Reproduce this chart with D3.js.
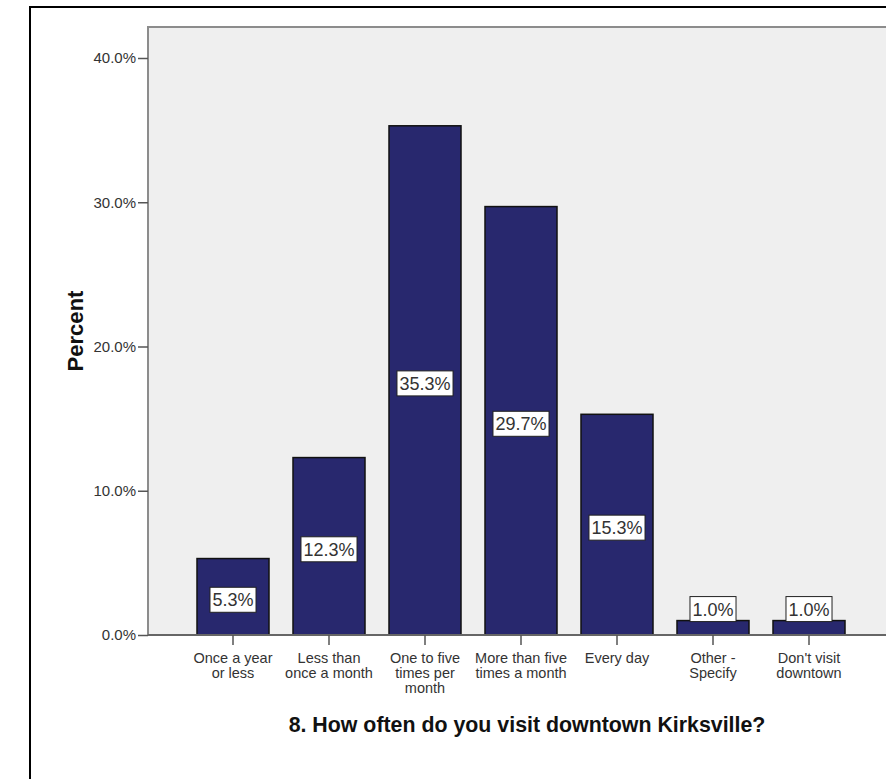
<!DOCTYPE html>
<html>
<head>
<meta charset="utf-8">
<script src="https://cdn.jsdelivr.net/npm/d3@7"></script>
<style>
  html, body { margin: 0; padding: 0; background: #fff; }
  svg { display: block; }
  text { font-family: "Liberation Sans", Arial, sans-serif; }
</style>
</head>
<body>
<svg id="chart" width="886" height="779"></svg>
<script>
// ---- data ----
const categories = [
  "Once a year or less",
  "Less than once a month",
  "One to five times per month",
  "More than five times a month",
  "Every day",
  "Other - Specify",
  "Don't visit downtown"
];
const categoryLines = [
  ["Once a year", "or less"],
  ["Less than", "once a month"],
  ["One to five", "times per", "month"],
  ["More than five", "times a month"],
  ["Every day"],
  ["Other -", "Specify"],
  ["Don't visit", "downtown"]
];
const percents = [5.3, 12.3, 35.3, 29.7, 15.3, 1.0, 1.0];
const yTicks = [0, 10, 20, 30, 40];
const xTitle = "8. How often do you visit downtown Kirksville?";
const yTitle = "Percent";

// ---- layout ----
const W = 886, H = 779;
const svg = d3.select("#chart");
const plotLeft = 148, plotTop = 27, plotBottom = 635, plotRight = 910;

const x = d3.scaleBand().domain(categories).range([185, 857])
  .paddingInner(0.25).paddingOuter(0.125);
const y = d3.scaleLinear().domain([0, 40]).range([plotBottom, 58]);

// outer frame
svg.append("rect").attr("x", 30).attr("y", 7).attr("width", 900).attr("height", 800)
  .attr("fill", "#fff").attr("stroke", "#000").attr("stroke-width", 2);

// plot area
svg.append("rect").attr("x", plotLeft).attr("y", plotTop)
  .attr("width", plotRight - plotLeft).attr("height", plotBottom - plotTop)
  .attr("fill", "#efefef").attr("stroke", "#8c8c8c").attr("stroke-width", 2);

// y axis
const yAxis = svg.append("g").attr("transform", `translate(${plotLeft},0)`)
  .call(d3.axisLeft(y).tickValues(yTicks).tickSize(10).tickPadding(2)
    .tickFormat(d => d.toFixed(1) + "%"));
yAxis.select(".domain").remove();
yAxis.selectAll(".tick line").attr("stroke", "#555").attr("stroke-width", 1.5);
yAxis.selectAll(".tick text").attr("fill", "#333").style("font-size", "15px")
  .style("font-family", "'Liberation Sans', Arial, sans-serif");

// bars
svg.append("g").selectAll("rect").data(percents).join("rect")
  .attr("x", (d, i) => x(categories[i]))
  .attr("y", d => y(d))
  .attr("width", x.bandwidth())
  .attr("height", d => plotBottom - y(d))
  .attr("fill", "#28286e").attr("stroke", "#111").attr("stroke-width", 1.5);

// bottom axis line
svg.append("line").attr("x1", plotLeft).attr("x2", W).attr("y1", plotBottom).attr("y2", plotBottom)
  .attr("stroke", "#666").attr("stroke-width", 2);

// x axis
const xAxis = svg.append("g").attr("transform", `translate(0,${plotBottom})`)
  .call(d3.axisBottom(x).tickSize(10).tickFormat(""));
xAxis.select(".domain").remove();
xAxis.selectAll(".tick line").attr("stroke", "#555").attr("stroke-width", 1.5);
xAxis.selectAll(".tick").each(function(d, i) {
  const t = d3.select(this).append("text").attr("fill", "#333")
    .attr("text-anchor", "middle").style("font-size", "14.5px")
    .style("font-family", "'Liberation Sans', Arial, sans-serif");
  categoryLines[i].forEach((ln, k) => {
    t.append("tspan").attr("x", 0).attr("y", 28 + k * 15).text(ln);
  });
});

// value labels
const lg = svg.append("g");
percents.forEach((v, i) => {
  const cx = x(categories[i]) + x.bandwidth() / 2;
  const g = lg.append("g");
  const txt = g.append("text").attr("x", cx).attr("text-anchor", "middle")
    .attr("fill", "#333").style("font-size", "18px").text(v.toFixed(1) + "%");
  const tw = txt.node().getComputedTextLength();
  const bh = 25, bw = tw + 5;
  const top = (plotBottom - y(v)) > 40
    ? (y(v) + plotBottom) / 2 + 3 - bh / 2
    : y(v) - bh + 1;
  g.insert("rect", "text").attr("x", cx - bw / 2).attr("y", top)
    .attr("width", bw).attr("height", bh)
    .attr("fill", "#fff").attr("stroke", "#222").attr("stroke-width", 1);
  txt.attr("y", top + bh / 2).attr("dy", "0.36em");
});

// axis titles
function fitText(sel, target) {
  const w = sel.node().getComputedTextLength();
  const fs = parseFloat(sel.style("font-size"));
  sel.style("font-size", (fs * target / w) + "px");
}
const xt = svg.append("text").attr("x", 527).attr("y", 732)
  .attr("text-anchor", "middle").attr("fill", "#111")
  .style("font-weight", "bold").style("font-size", "18px").text(xTitle);
fitText(xt, 477);

const yt = svg.append("text").attr("transform", "translate(83,331) rotate(-90)")
  .attr("text-anchor", "middle").attr("fill", "#111")
  .style("font-weight", "bold").style("font-size", "17px").text(yTitle);
fitText(yt, 81);
</script>
</body>
</html>
